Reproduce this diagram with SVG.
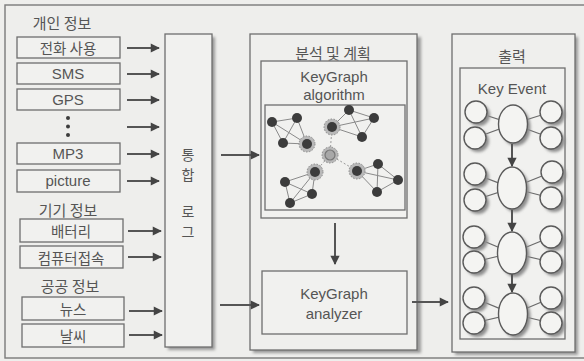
<svg xmlns="http://www.w3.org/2000/svg" width="584" height="361" viewBox="0 0 584 361">
  <defs>
    <style>
      .bg { fill: #eeeeec; }
      .frame { fill: none; stroke: #7a7a7a; stroke-width: 1.4; }
      .box { fill: #f1f1ef; stroke: #6e6e6e; stroke-width: 1.3; }
      .panel { fill: #efefed; stroke: #6e6e6e; stroke-width: 1.3; }
      .shadow { fill: #9a9a9a; filter: url(#soft); }
      .ko { font-family: "Noto Sans CJK KR", "Noto Sans", sans-serif; fill: #555; font-size: 14.5px; text-anchor: middle; dominant-baseline: central; }
      .en { font-family: "Liberation Sans", Arial, "Noto Sans CJK KR", sans-serif; fill: #555; font-size: 15px; text-anchor: middle; dominant-baseline: central; }
      .head { font-size: 15px; }
      .vert { font-size: 14px; }
      .conn { stroke: #555; stroke-width: 2; fill: none; marker-end: url(#arrow); }
      .edge { stroke: #8a8a8a; stroke-width: 1; fill: none; }
      .edge2 { stroke: #9a9a9a; stroke-width: 1; fill: none; stroke-dasharray: 2 2; }
      .dot { fill: #3c3c3c; }
      .halo { fill: #b8b8b8; stroke: #8a8a8a; stroke-width: 1; stroke-dasharray: 1.5 1.5; }
      .hub { fill: #a8a8a8; stroke: #777; stroke-width: 1.2; }
      .ring { fill: #f4f4f2; stroke: #5a5a5a; stroke-width: 1.4; }
      .ringshadow { fill: #8c8c8c; filter: url(#soft); }
      .link { stroke: #6a6a6a; stroke-width: 1.2; }
    </style>
    <filter id="soft" x="-30%" y="-30%" width="160%" height="160%">
      <feGaussianBlur stdDeviation="1.4"/>
    </filter>
    <marker id="arrow" viewBox="0 0 10 10" refX="9" refY="5" markerWidth="5" markerHeight="4.6" orient="auto" markerUnits="strokeWidth">
      <path d="M0,0 L10,5 L0,10 z" fill="#444"/>
    </marker>
  </defs>

  <rect class="bg" x="0" y="0" width="584" height="361"/>
  <rect class="frame" x="5" y="5" width="600" height="353"/>

  <!-- personal information -->
  <text class="ko head" x="62" y="22">개인 정보</text>
  <g id="call"><rect class="box" x="17" y="37" width="103" height="21"/><text class="ko" x="68" y="47.5">전화 사용</text></g>
  <g id="sms"><rect class="box" x="17" y="63" width="103" height="21"/><text class="en" x="68" y="73.5">SMS</text></g>
  <g id="gps"><rect class="box" x="17" y="89" width="103" height="21"/><text class="en" x="68" y="99.5">GPS</text></g>
  <g id="more">
    <circle class="dot" cx="68" cy="118" r="2"/>
    <circle class="dot" cx="68" cy="126.5" r="2"/>
    <circle class="dot" cx="68" cy="135" r="2"/>
  </g>
  <g id="mp3"><rect class="box" x="17" y="143" width="103" height="21"/><text class="en" x="68" y="153.5">MP3</text></g>
  <g id="picture"><rect class="box" x="17" y="170" width="103" height="22"/><text class="en" x="68" y="180.5">picture</text></g>

  <!-- device information -->
  <text class="ko head" x="68" y="209">기기 정보</text>
  <g id="battery"><rect class="box" x="20" y="219" width="103" height="23"/><text class="ko" x="71" y="230.5">배터리</text></g>
  <g id="pc"><rect class="box" x="20" y="246" width="103" height="22"/><text class="ko" x="71" y="257">컴퓨터접속</text></g>

  <!-- public information -->
  <text class="ko head" x="70" y="285">공공 정보</text>
  <g id="news"><rect class="box" x="22" y="297" width="102" height="23"/><text class="ko" x="73" y="308.5">뉴스</text></g>
  <g id="weather"><rect class="box" x="22" y="324" width="102" height="23"/><text class="ko" x="73" y="335.5">날씨</text></g>

  <!-- integrated log -->
  <g id="log">
    <rect class="shadow" x="168" y="37" width="47" height="313"/>
    <rect class="box" x="165" y="34" width="47" height="313"/>
    <text class="ko vert" x="188" y="153.5">통</text>
    <text class="ko vert" x="188" y="173.5">합</text>
    <text class="ko vert" x="188" y="211">로</text>
    <text class="ko vert" x="188" y="231">그</text>
  </g>

  <!-- analysis and planning -->
  <g id="analysis">
    <rect class="shadow" x="253" y="37" width="168" height="316"/>
    <rect class="panel" x="250" y="34" width="167" height="316"/>
    <text class="ko head" x="333" y="52">분석 및 계획</text>
  </g>
  <g id="algorithm">
    <rect class="box" x="261" y="61" width="146" height="157"/>
    <text class="en" x="334" y="76">KeyGraph</text>
    <text class="en" x="334" y="94">algorithm</text>
    <rect class="box" x="265" y="105" width="140" height="105"/>
    <!-- keyword clusters -->
    <g id="clusters">
      <line class="edge2" x1="330" y1="155" x2="332" y2="127"/>
      <line class="edge2" x1="330" y1="155" x2="315" y2="172"/>
      <line class="edge2" x1="330" y1="155" x2="357" y2="171"/>
      <path class="edge" d="M272,122 L297,118 L307,144 L283,143 Z M272,122 L307,144 M297,118 L283,143"/>
      <path class="edge" d="M332,127 L349,110 L374,118 L362,137 Z M332,127 L374,118 M349,110 L362,137"/>
      <path class="edge" d="M315,172 L312,194 L290,203 L285,182 Z M315,172 L290,203 M285,182 L312,194"/>
      <path class="edge" d="M357,171 L378,164 L398,180 L377,192 Z M357,171 L398,180 M378,164 L377,192"/>
      <circle class="halo" cx="307" cy="144" r="8"/>
      <circle class="halo" cx="332" cy="127" r="8"/>
      <circle class="halo" cx="315" cy="172" r="8"/>
      <circle class="halo" cx="357" cy="171" r="8"/>
      <circle class="halo" cx="330" cy="155" r="8"/>
      <circle class="hub" cx="330" cy="155" r="5"/>
      <circle class="dot" cx="272" cy="122" r="5"/>
      <circle class="dot" cx="297" cy="118" r="5"/>
      <circle class="dot" cx="283" cy="143" r="5"/>
      <circle class="dot" cx="307" cy="144" r="5"/>
      <circle class="dot" cx="332" cy="127" r="5"/>
      <circle class="dot" cx="349" cy="110" r="5"/>
      <circle class="dot" cx="374" cy="118" r="5"/>
      <circle class="dot" cx="362" cy="137" r="5"/>
      <circle class="dot" cx="315" cy="172" r="5"/>
      <circle class="dot" cx="285" cy="182" r="5"/>
      <circle class="dot" cx="312" cy="194" r="5"/>
      <circle class="dot" cx="290" cy="203" r="5"/>
      <circle class="dot" cx="357" cy="171" r="5"/>
      <circle class="dot" cx="378" cy="164" r="5"/>
      <circle class="dot" cx="398" cy="180" r="5"/>
      <circle class="dot" cx="377" cy="192" r="5"/>
    </g>
  </g>
  <g id="analyzer">
    <rect class="box" x="262" y="271" width="145" height="63"/>
    <text class="en" x="334" y="293">KeyGraph</text>
    <text class="en" x="334" y="313">analyzer</text>
  </g>

  <!-- output -->
  <g id="output">
    <rect class="shadow" x="455" y="37" width="123" height="318"/>
    <rect class="panel" x="452" y="34" width="123" height="318"/>
    <text class="ko head" x="512" y="55">출력</text>
    <rect class="box" x="460" y="68" width="105" height="271"/>
    <text class="en" x="512" y="88">Key Event</text>
  </g>
  <g id="event1">
    <line class="link" x1="476" y1="112" x2="513" y2="124"/><line class="link" x1="475" y1="138" x2="513" y2="124"/>
    <line class="link" x1="551" y1="112" x2="513" y2="124"/><line class="link" x1="551" y1="138" x2="513" y2="124"/>
    <circle class="ringshadow" cx="479" cy="115" r="11"/><circle class="ringshadow" cx="478" cy="141" r="11"/>
    <circle class="ringshadow" cx="554" cy="115" r="11"/><circle class="ringshadow" cx="554" cy="141" r="11"/>
    <ellipse class="ringshadow" cx="516" cy="127" rx="14.5" ry="19"/>
    <circle class="ring" cx="476" cy="112" r="11"/><circle class="ring" cx="475" cy="138" r="11"/>
    <circle class="ring" cx="551" cy="112" r="11"/><circle class="ring" cx="551" cy="138" r="11"/>
    <ellipse class="ring" cx="513" cy="124" rx="14.5" ry="19"/>
  </g>
  <g id="event2">
    <line class="link" x1="475" y1="174" x2="512" y2="188"/><line class="link" x1="475" y1="200" x2="512" y2="188"/>
    <line class="link" x1="552" y1="172" x2="512" y2="188"/><line class="link" x1="551" y1="198" x2="512" y2="188"/>
    <circle class="ringshadow" cx="478" cy="177" r="11"/><circle class="ringshadow" cx="478" cy="203" r="11"/>
    <circle class="ringshadow" cx="555" cy="175" r="11"/><circle class="ringshadow" cx="554" cy="201" r="11"/>
    <ellipse class="ringshadow" cx="515" cy="191" rx="14.5" ry="21"/>
    <circle class="ring" cx="475" cy="174" r="11"/><circle class="ring" cx="475" cy="200" r="11"/>
    <circle class="ring" cx="552" cy="172" r="11"/><circle class="ring" cx="551" cy="198" r="11"/>
    <ellipse class="ring" cx="512" cy="188" rx="14.5" ry="21"/>
  </g>
  <g id="event3">
    <line class="link" x1="474" y1="237" x2="512" y2="253"/><line class="link" x1="474" y1="262" x2="512" y2="253"/>
    <line class="link" x1="551" y1="237" x2="512" y2="253"/><line class="link" x1="551" y1="262" x2="512" y2="253"/>
    <circle class="ringshadow" cx="477" cy="240" r="11"/><circle class="ringshadow" cx="477" cy="265" r="11"/>
    <circle class="ringshadow" cx="554" cy="240" r="11"/><circle class="ringshadow" cx="554" cy="265" r="11"/>
    <ellipse class="ringshadow" cx="515" cy="256" rx="14.5" ry="21"/>
    <circle class="ring" cx="474" cy="237" r="11"/><circle class="ring" cx="474" cy="262" r="11"/>
    <circle class="ring" cx="551" cy="237" r="11"/><circle class="ring" cx="551" cy="262" r="11"/>
    <ellipse class="ring" cx="512" cy="253" rx="14.5" ry="21"/>
  </g>
  <g id="event4">
    <line class="link" x1="474" y1="298" x2="513" y2="314"/><line class="link" x1="474" y1="323" x2="513" y2="314"/>
    <line class="link" x1="551" y1="298" x2="513" y2="314"/><line class="link" x1="551" y1="323" x2="513" y2="314"/>
    <circle class="ringshadow" cx="477" cy="301" r="11"/><circle class="ringshadow" cx="477" cy="326" r="11"/>
    <circle class="ringshadow" cx="554" cy="301" r="11"/><circle class="ringshadow" cx="554" cy="326" r="11"/>
    <ellipse class="ringshadow" cx="516" cy="317" rx="14.5" ry="21"/>
    <circle class="ring" cx="474" cy="298" r="11"/><circle class="ring" cx="474" cy="323" r="11"/>
    <circle class="ring" cx="551" cy="298" r="11"/><circle class="ring" cx="551" cy="323" r="11"/>
    <ellipse class="ring" cx="513" cy="314" rx="14.5" ry="21"/>
  </g>

  <!-- connectors -->
  <g id="connectors">
    <line class="conn" x1="127" y1="48" x2="159" y2="48"/>
    <line class="conn" x1="127" y1="74" x2="159" y2="74"/>
    <line class="conn" x1="127" y1="100" x2="159" y2="100"/>
    <line class="conn" x1="127" y1="127" x2="159" y2="127"/>
    <line class="conn" x1="127" y1="154" x2="159" y2="154"/>
    <line class="conn" x1="127" y1="181" x2="159" y2="181"/>
    <line class="conn" x1="128" y1="231" x2="161" y2="231"/>
    <line class="conn" x1="128" y1="257" x2="161" y2="257"/>
    <line class="conn" x1="129" y1="311" x2="162" y2="311"/>
    <line class="conn" x1="129" y1="335" x2="162" y2="335"/>
    <line class="conn" x1="221" y1="155" x2="259" y2="155"/>
    <line class="conn" x1="220" y1="305" x2="259" y2="305"/>
    <line class="conn" x1="335" y1="223" x2="335" y2="264"/>
    <line class="conn" x1="412" y1="302" x2="448" y2="302"/>
    <line class="conn" x1="512" y1="144" x2="512" y2="166"/>
    <line class="conn" x1="512" y1="210" x2="512" y2="231"/>
    <line class="conn" x1="512" y1="274" x2="512" y2="292"/>
  </g>
</svg>
